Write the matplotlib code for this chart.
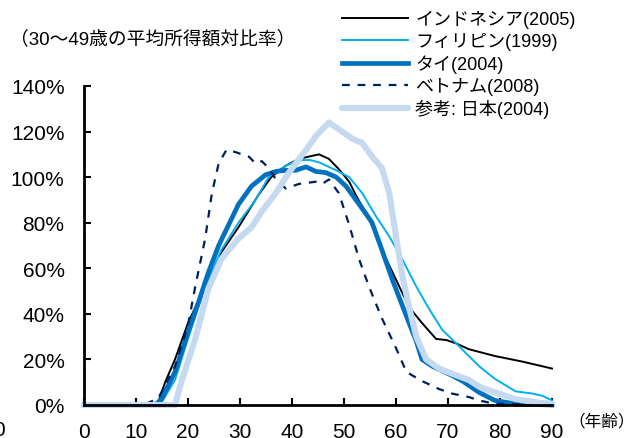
import matplotlib.pyplot as plt

plt.rcParams['font.family'] = ['Liberation Sans', 'Noto Sans CJK JP']

# age / ratio (%) for each series
indo_age = [0, 13, 14.3, 15.6, 17.5, 20, 23.3, 26.4, 29.7, 33.5, 36, 38.8, 41.3, 43.2, 45.2, 47.1, 49, 51, 52.3,
            54.8, 57.3, 60, 62.5, 65, 67.7, 69.7, 71.6, 74, 79, 84.4, 90]
indo_val = [0, 0, 1.3, 10, 20, 36, 52, 67, 78, 92, 100, 105, 108, 109, 110, 108, 103.5, 98, 92,
            82, 68, 55, 43, 36, 29, 28.5, 27, 24.5, 21.5, 19, 16]

phil_age = [0, 13.5, 14.9, 17.5, 20, 23.3, 26.4, 29.7, 33, 35.5, 38.8, 41.3, 43.5, 45.2, 48.5, 51, 53.5,
            56.1, 58.7, 61.2, 63.9, 66.4, 68.9, 71.6, 74, 76, 79, 83, 86.3, 88.2, 90]
phil_val = [0, 0, 1, 11, 29, 52, 68, 80, 90, 100, 105, 107.5, 107.5, 106.5, 103, 100, 93,
            83, 74, 64, 52, 42, 33, 27, 21.5, 17, 11.5, 6, 5, 4, 2]

thai_age = [0, 13.7, 14.9, 17.5, 20, 22, 23.9, 25.9, 27.8, 29.7, 32.2, 34.9, 36.9, 38.8, 40.7, 42.7, 44.6,
            46.5, 48.5, 50.4, 52.3, 54.2, 55.4, 57.3, 59.3, 62, 63.9, 65, 67, 70.3, 72.8, 76, 79, 83, 90]
thai_val = [0, 0, 2.6, 14.5, 32, 45, 58, 70, 79, 88, 96, 101, 102.5, 103, 103, 104.5, 102.5,
            102, 100, 96, 90, 84, 80, 68, 55, 39, 28, 20, 17, 13.5, 10.5, 5.5, 2, 0.5, 0]

viet_age = [0, 11.5, 12.4, 14.3, 17.5, 20, 21.4, 23.3, 24.6, 25.9, 27.4, 29.1, 31.7, 33, 34.2, 35.5,
            36.9, 38.8, 41.3, 44.6, 45.8, 47.1, 49, 51, 52.9, 54.8, 57.3, 60, 62, 65, 68.3, 70.8,
            74, 76, 79, 90]
viet_val = [0, 0, 1, 3, 17, 35, 52, 73, 93, 106, 112, 111, 109, 106, 107, 104,
            99, 95, 97, 98, 97, 99, 93, 79, 64, 52, 38, 25, 14.5, 10.5, 7, 5,
            3.5, 2, 0.5, 0]

japan_age = [0, 17.5, 18.7, 21.4, 23.9, 26.4, 29.7, 32.2, 34.2, 36.9, 39.4, 42.7, 44.6, 47.1, 49, 51.5,
             53.5, 55.4, 57.3, 58.7, 60, 61.2, 62.5, 63.9, 65.8, 68.3, 71.6, 74, 76, 79, 83, 87.6, 90]
japan_val = [0, 0, 10, 29, 51, 64, 73, 78, 85, 93, 102, 112, 118, 124, 121, 117,
             115, 109, 104, 93, 74, 57, 43, 30, 20, 16, 13, 11, 8, 5.5, 2.6, 1, 0.5]

labels = ['インドネシア(2005)', 'フィリピン(1999)', 'タイ(2004)', 'ベトナム(2008)', '参考: 日本(2004)']

fig = plt.figure(figsize=(6.35, 4.39), dpi=100)
ax = fig.add_axes([84 / 635, 1 - 406 / 439, (552 - 84) / 635, (406 - 87) / 439])

ax.plot(indo_age, indo_val, color='black', lw=1.4, label=labels[0], clip_on=False)
ax.plot(phil_age, phil_val, color='#00B0F0', lw=1.4, label=labels[1], clip_on=False)
ax.plot(thai_age, thai_val, color='#0070C0', lw=3.4, label=labels[2], clip_on=False)
ax.plot(viet_age, viet_val, color='#002060', lw=1.6, ls=(0, (3.5, 3.5)), label=labels[3], clip_on=False)
ax.plot(japan_age, japan_val, color='#C5D9F1', lw=4.4, label=labels[4], clip_on=False,
        solid_capstyle='round')

ax.set_xlim(0, 90)
ax.set_ylim(0, 140)
ax.set_xticks(range(0, 91, 10))
ax.set_yticks(range(0, 141, 20))
ax.set_yticklabels([f'{v}%' for v in range(0, 141, 20)])
for s in ['top', 'right']:
    ax.spines[s].set_visible(False)
for s in ['left', 'bottom']:
    ax.spines[s].set_linewidth(2)
ax.tick_params(axis='x', direction='in', length=5, width=1.5, labelsize=15, pad=12.5)
ax.tick_params(axis='y', direction='in', length=5, width=1.5, labelsize=15, pad=14)

fig.text(10 / 635, 1 - 39 / 439, '（30～49歳の平均所得額対比率）', fontsize=13.5, va='center', ha='left')
fig.text(635 / 635, 1 - 421 / 439, '（年齢）', fontsize=12, va='center', ha='right')
fig.text(5 / 635, 1 - 431 / 439, '0', fontsize=15, va='center', ha='right')

ax.legend(loc='upper left', bbox_to_anchor=(342 / 635, 1 - 11 / 439), bbox_transform=fig.transFigure,
          frameon=False, fontsize=13, handlelength=3.66, handletextpad=0.39, labelspacing=0.23,
          borderpad=0, borderaxespad=0)

fig.savefig('out.png', dpi=100)
